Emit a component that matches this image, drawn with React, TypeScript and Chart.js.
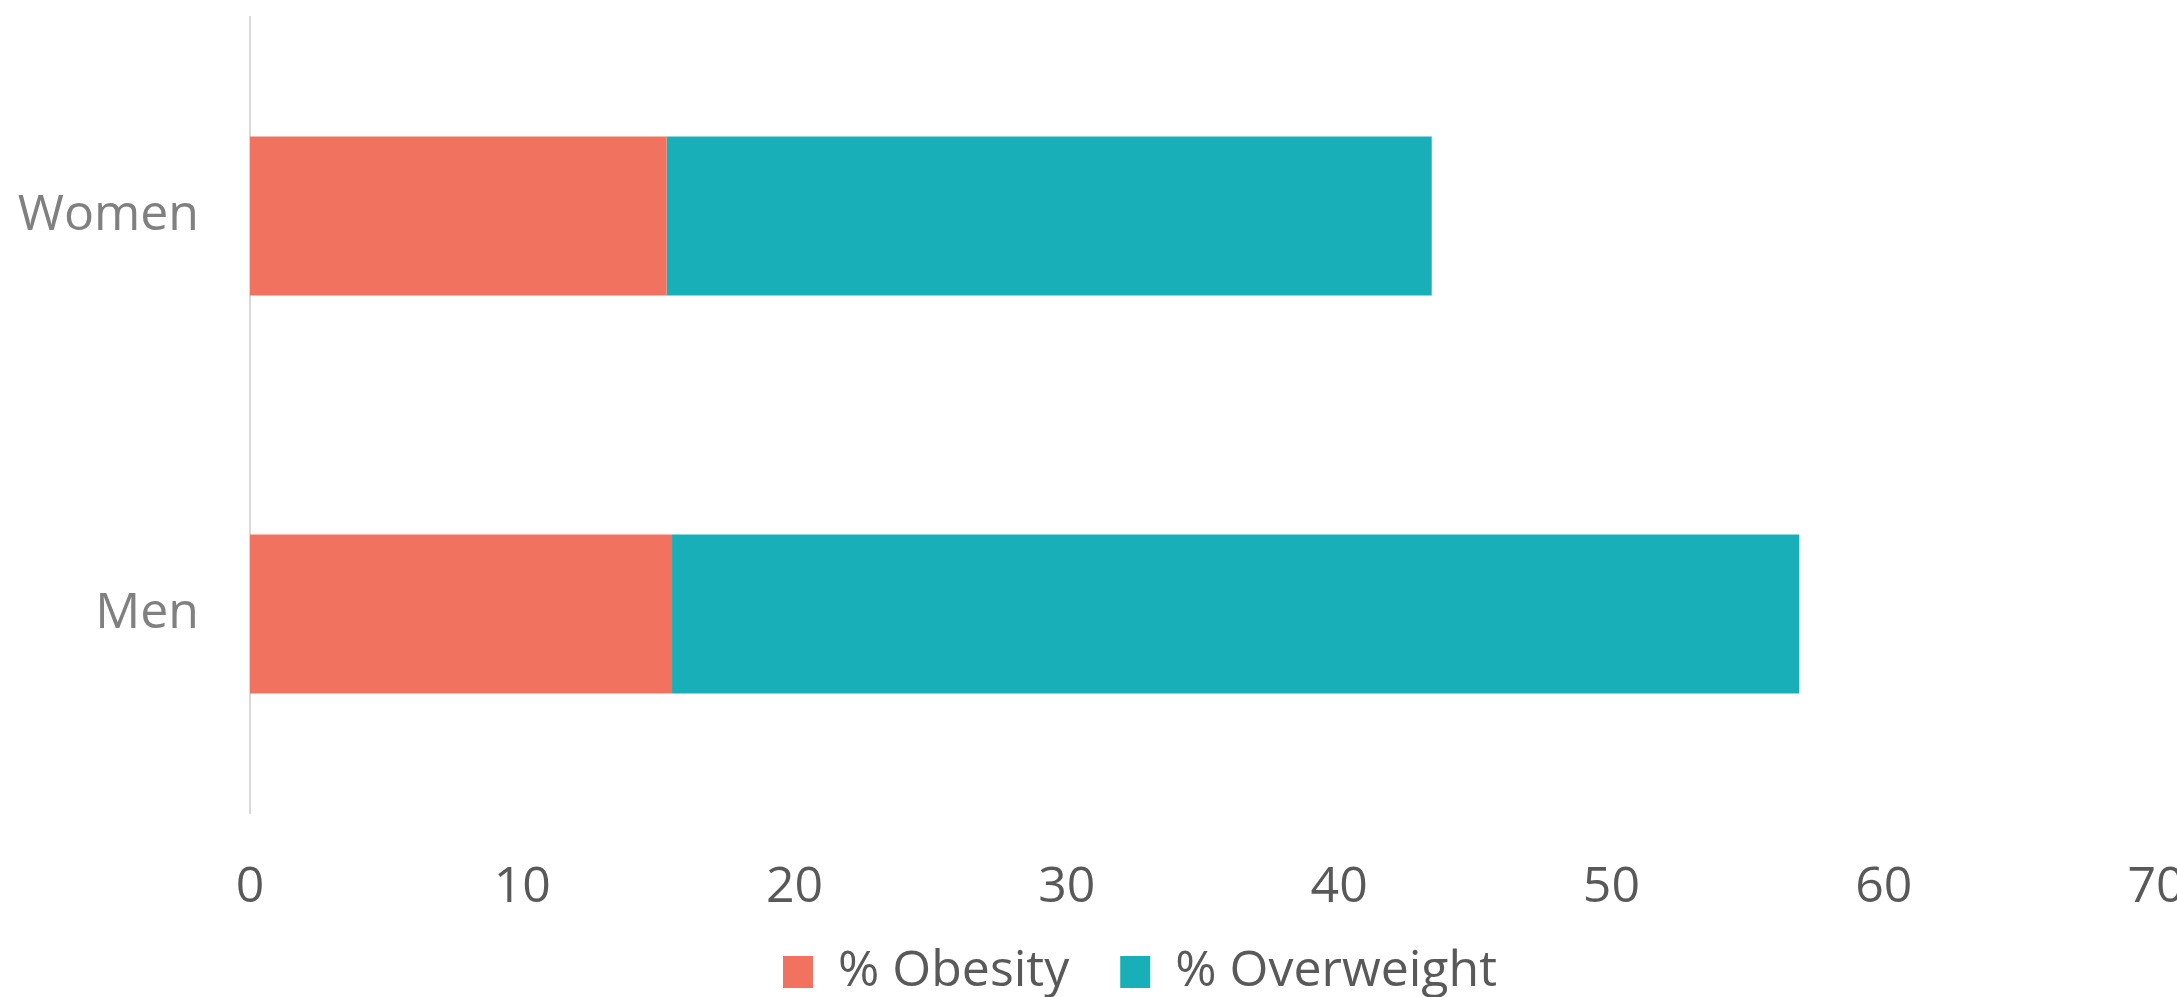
import React, { useEffect, useRef } from "react";
import { Chart, registerables } from "chart.js";

Chart.register(...registerables);

const categories = ["Women", "Men"];
const obesity = [15.3, 15.5];
const overweight = [28.1, 41.4];
const xTicks = [0, 10, 20, 30, 40, 50, 60, 70];
const seriesNames = ["% Obesity", "% Overweight"];

const FONT = "'Open Sans', 'Liberation Sans', sans-serif";
const FONT_SIZE = 50;
const LEGEND_PAD = 51;

const legendShift = {
  id: "legendShift",
  beforeDraw(chart: any) {
    const lg = chart.legend;
    if (lg) {
      const w = lg.right - lg.left;
      const h = FONT_SIZE + LEGEND_PAD + 10;
      lg.left = 62;
      lg.right = 62 + w;
      lg.top = 972 - FONT_SIZE / 2 - LEGEND_PAD;
      lg.bottom = lg.top + h;
      lg.height = h;
      lg.adjustHitBoxes && lg.adjustHitBoxes();
    }
  },
};

export default function App() {
  const ref = useRef<HTMLCanvasElement | null>(null);

  useEffect(() => {
    document.body.style.margin = "0";
    document.body.style.overflow = "hidden";
    const canvas = ref.current;
    if (!canvas) return;
    const chart = new Chart(canvas, {
      type: "bar",
      data: {
        labels: categories,
        datasets: [
          {
            label: seriesNames[0],
            data: obesity,
            backgroundColor: "#F27260",
            borderWidth: 0,
            barPercentage: 0.8,
            categoryPercentage: 0.5,
          },
          {
            label: seriesNames[1],
            data: overweight,
            backgroundColor: "#19AFB8",
            borderWidth: 0,
            barPercentage: 0.8,
            categoryPercentage: 0.5,
          },
        ],
      },
      plugins: [legendShift],
      options: {
        indexAxis: "y",
        animation: false,
        responsive: false,
        maintainAspectRatio: false,
        devicePixelRatio: 1,
        layout: { padding: { top: 17, left: 0, right: 29, bottom: 0 } },
        plugins: {
          tooltip: { enabled: false },
          legend: {
            position: "bottom",
            maxHeight: 80,
            labels: {
              boxWidth: 30,
              boxHeight: 32,
              padding: LEGEND_PAD,
              color: "#595959",
              font: { family: FONT, size: FONT_SIZE },
            },
          },
        },
        scales: {
          x: {
            stacked: true,
            min: 0,
            max: 70,
            afterBuildTicks: (scale: any) => {
              scale.ticks = xTicks.map((v) => ({ value: v }));
            },
            afterFit: (scale: any) => {
              scale.height = 104;
              scale.paddingLeft = 0;
              scale.paddingRight = 0;
            },
            grid: { display: false, drawTicks: false },
            border: { display: false },
            ticks: {
              padding: 45,
              color: "#595959",
              font: { family: FONT, size: FONT_SIZE },
            },
          },
          y: {
            stacked: true,
            grid: { display: false, drawTicks: false },
            border: { display: true, color: "#D9D9D9", width: 2 },
            afterFit: (scale: any) => {
              scale.width = 250;
              scale.paddingTop = 0;
              scale.paddingBottom = 0;
            },
            ticks: {
              padding: 51,
              color: "#808080",
              font: { family: FONT, size: FONT_SIZE },
            },
          },
        },
      },
    });
    return () => chart.destroy();
  }, []);

  return (
    <div style={{ width: 2177, height: 997, overflow: "hidden", background: "#fff" }}>
      <canvas ref={ref} width={2185} height={997} style={{ display: "block" }} />
    </div>
  );
}
